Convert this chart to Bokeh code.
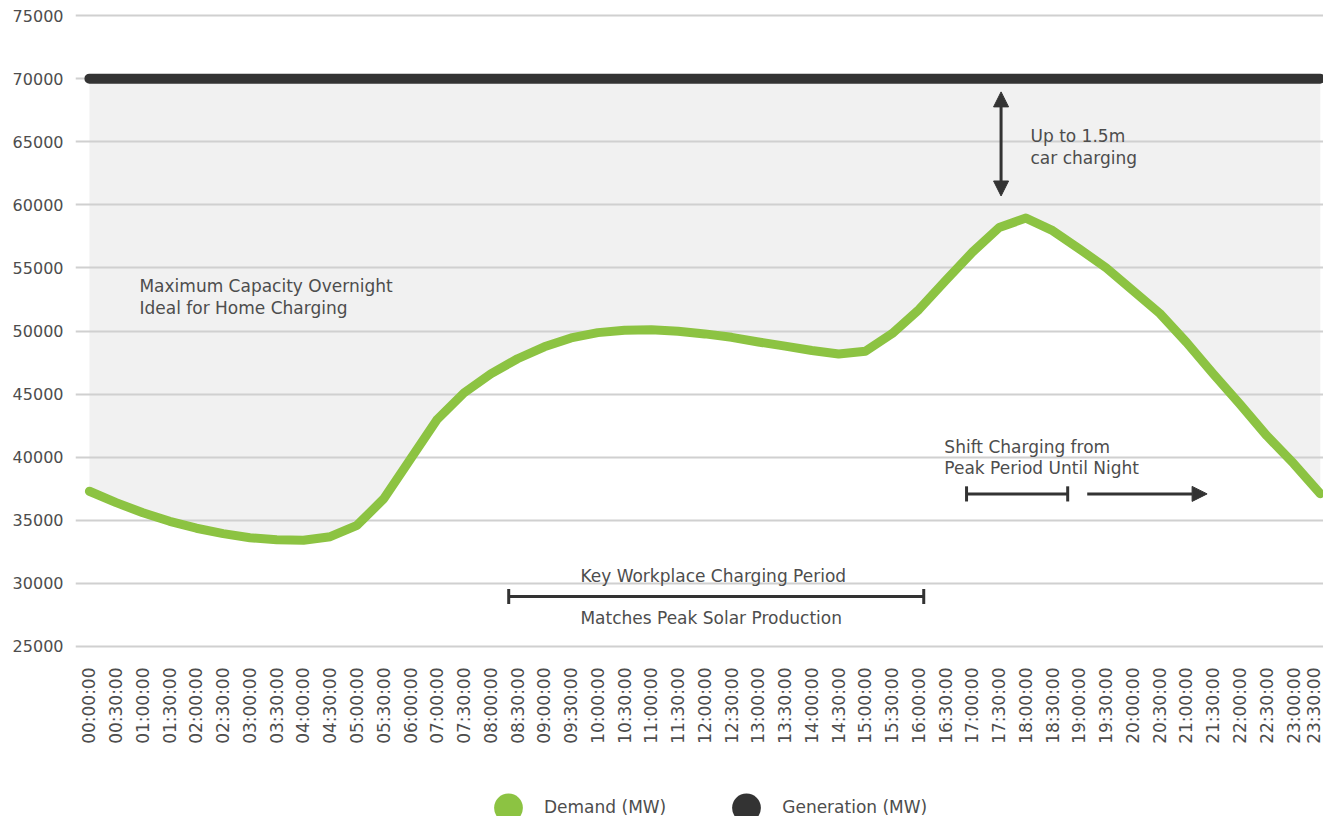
from math import pi
from bokeh.plotting import figure
from bokeh.layouts import column
from bokeh.models import (Range1d, FixedTicker, Label, Arrow, NormalHead,
                          Legend, LegendItem, NumeralTickFormatter)
from bokeh.embed import file_html
from bokeh.resources import INLINE

# ---------------- data ----------------
times = ["00:00:00", "00:30:00", "01:00:00", "01:30:00", "02:00:00", "02:30:00",
         "03:00:00", "03:30:00", "04:00:00", "04:30:00", "05:00:00", "05:30:00",
         "06:00:00", "07:00:00", "07:30:00", "08:00:00", "08:30:00", "09:00:00",
         "09:30:00", "10:00:00", "10:30:00", "11:00:00", "11:30:00", "12:00:00",
         "12:30:00", "13:00:00", "13:30:00", "14:00:00", "14:30:00", "15:00:00",
         "15:30:00", "16:00:00", "16:30:00", "17:00:00", "17:30:00", "18:00:00",
         "18:30:00", "19:00:00", "19:30:00", "20:00:00", "20:30:00", "21:00:00",
         "21:30:00", "22:00:00", "22:30:00", "23:00:00", "23:30:00"]

demand = [37300, 36400, 35600, 34920, 34370, 33940, 33620, 33450, 33420, 33700,
          34600, 36700, 39850, 43000, 45100, 46600, 47800, 48750, 49450, 49870,
          50060, 50100, 49980, 49770, 49500, 49130, 48800, 48450, 48180, 48400,
          49800, 51700, 54000, 56250, 58200, 58950, 57950, 56500, 55000, 53200,
          51400, 49100, 46600, 44200, 41700, 39500, 37100]

generation = [70000, 70000, 70000, 70000, 70000, 70000, 70000, 70000, 70000, 70000,
              70000, 70000, 70000, 70000, 70000, 70000, 70000, 70000, 70000, 70000,
              70000, 70000, 70000, 70000, 70000, 70000, 70000, 70000, 70000, 70000,
              70000, 70000, 70000, 70000, 70000, 70000, 70000, 70000, 70000, 70000,
              70000, 70000, 70000, 70000, 70000, 70000, 70000]

y_ticks = [25000, 30000, 35000, 40000, 45000, 50000, 55000, 60000, 65000, 70000, 75000]

series_names = ["Demand (MW)", "Generation (MW)"]

# ---------------- styling ----------------
GREEN = "#8cc342"
DARK = "#333333"
TEXT = "#4d4d4d"
FONT = "DejaVu Sans"

idx = list(range(len(times)))

p = figure(width=1323, height=746, output_backend="svg", toolbar_location=None,
           x_range=Range1d(-0.52, 46.12), y_range=Range1d(24600, 75400),
           min_border_left=75, min_border_right=0, min_border_top=10,
           min_border_bottom=94, outline_line_color=None,
           background_fill_color="white", border_fill_color="white")

# gray capacity band between demand and generation
p.varea(x=idx, y1=demand, y2=generation, fill_color="#f1f1f1", level="image")

# lines
p.line(idx, generation, line_width=10, line_color=DARK, line_cap="round")
p.line(idx, demand, line_width=9, line_color=GREEN, line_cap="round", line_join="round")

# grid
p.xgrid.visible = False
p.ygrid.ticker = FixedTicker(ticks=y_ticks)
p.ygrid.grid_line_color = "#d0d0d0"
p.ygrid.grid_line_width = 2

# x axis
xa = p.xaxis[0]
xa.ticker = FixedTicker(ticks=idx)
xa.major_label_overrides = {i: t for i, t in zip(idx, times)}
xa.major_label_orientation = pi / 2
xa.axis_line_color = None
xa.major_tick_line_color = None
xa.minor_tick_line_color = None
xa.major_tick_out = 0
xa.major_tick_in = 0
xa.major_label_standoff = 16
xa.major_label_text_font = FONT
xa.major_label_text_font_size = "17px"
xa.major_label_text_color = TEXT

# y axis
ya = p.yaxis[0]
ya.ticker = FixedTicker(ticks=y_ticks)
ya.formatter = NumeralTickFormatter(format="0")
ya.axis_line_color = None
ya.major_tick_line_color = None
ya.minor_tick_line_color = None
ya.major_tick_out = 0
ya.major_tick_in = 0
ya.major_label_standoff = 12
ya.major_label_text_font = FONT
ya.major_label_text_font_size = "16px"
ya.major_label_text_color = TEXT

# ---------------- annotations ----------------
def add_text(x, y, text, align="left"):
    p.add_layout(Label(x=x, y=y, text=text, text_align=align, text_baseline="middle",
                       text_font=FONT, text_font_size="17px", text_color=TEXT))

add_text(1.87, 53550, "Maximum Capacity Overnight")
add_text(1.87, 51810, "Ideal for Home Charging")
add_text(35.17, 65420, "Up to 1.5m")
add_text(35.17, 63700, "car charging")
add_text(31.95, 40830, "Shift Charging from")
add_text(31.95, 39120, "Peak Period Until Night")
add_text(18.35, 30620, "Key Workplace Charging Period")
add_text(18.35, 27250, "Matches Peak Solar Production")

def bracket(x0, x1, y, half=600):
    p.segment(x0=[x0, x0, x1], y0=[y, y - half, y - half],
              x1=[x1, x0, x1], y1=[y, y + half, y + half],
              line_color=DARK, line_width=3)

bracket(15.67, 31.18, 28960)
bracket(32.78, 36.56, 37090)

head = dict(size=15, fill_color=DARK, line_color=DARK)
p.add_layout(Arrow(x_start=37.29, y_start=37090, x_end=41.77, y_end=37090,
                   start=None, end=NormalHead(**head), line_color=DARK, line_width=3))
p.add_layout(Arrow(x_start=34.07, y_start=60700, x_end=34.07, y_end=68950,
                   start=NormalHead(**head), end=NormalHead(**head),
                   line_color=DARK, line_width=3))

# ---------------- legend (separate strip under the chart) ----------------
lf = figure(width=1323, height=70, output_backend="svg", toolbar_location=None,
            x_range=Range1d(0, 1), y_range=Range1d(0, 1), min_border=0,
            outline_line_color=None, background_fill_color="white",
            border_fill_color="white")
lf.axis.visible = False
lf.grid.visible = False
# series markers kept out of this strip's view; they only feed the legend dots
r_dem = lf.scatter(x=idx, y=demand, marker="circle", size=30,
                   fill_color=GREEN, line_color=None)
r_gen = lf.scatter(x=idx, y=generation, marker="circle", size=30,
                   fill_color=DARK, line_color=None)
legend = Legend(items=[LegendItem(label=series_names[0], renderers=[r_dem]),
                       LegendItem(label=series_names[1], renderers=[r_gen])],
                orientation="horizontal", location=(397, -28.5),
                glyph_width=72, glyph_height=75, label_standoff=0, spacing=44,
                padding=0, margin=0, border_line_color=None,
                background_fill_alpha=0,
                label_text_font=FONT, label_text_font_size="17px",
                label_text_color=TEXT)
lf.add_layout(legend)

open("out.html", "w").write(file_html(column(p, lf), INLINE))
